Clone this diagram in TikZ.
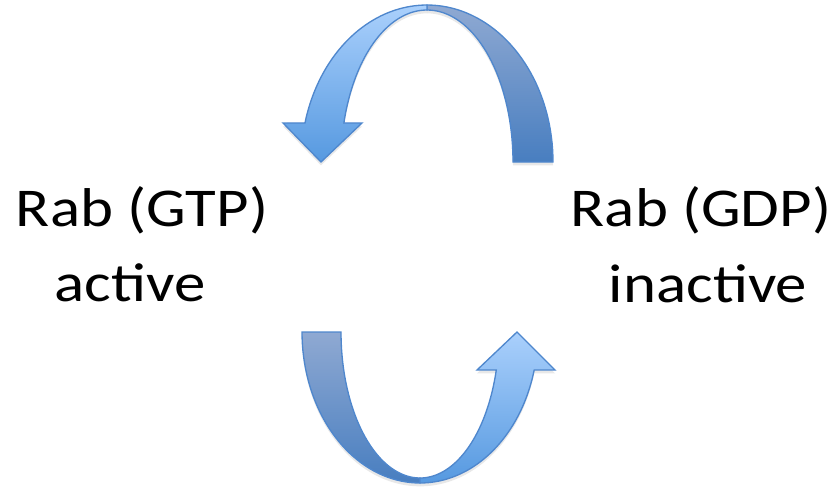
\documentclass[tikz,border=0pt]{standalone}
\usepackage{fontspec}
\usepackage{graphicx}
\usetikzlibrary{shadows}
\setmainfont{Carlito}
\definecolor{lighttop}{RGB}{170,208,252}
\definecolor{lightbot}{RGB}{86,153,224}
\definecolor{darktop}{RGB}{143,169,210}
\definecolor{darkbot}{RGB}{72,126,192}
\definecolor{arrowedge}{RGB}{79,135,205}
\newcommand{\widetxt}[1]{\scalebox{1.15}[1]{#1}}
\begin{document}
\begin{tikzpicture}[x=0.75pt,y=-0.75pt,
    band/.style={draw=arrowedge, line width=1pt, line join=miter,
        drop shadow={opacity=0.18, shadow xshift=0pt, shadow yshift=-2.5pt}},
    frontband/.style={band, top color=lighttop, bottom color=lightbot},
    backband/.style={band, top color=darktop, bottom color=darkbot},
    lbl/.style={font=\fontsize{41}{49}\selectfont, inner sep=0pt, anchor=base}]
\useasboundingbox (0,0) rectangle (834,494);

% Upper arrow, back half (right side, tail)
\path[backband] plot[domain=90:0, samples=40] ({427+126*cos(\x)}, {162-157*sin(\x)})
    -- (513,162)
    -- plot[domain=0:90, samples=40] ({427+86*cos(\x)}, {162-152*sin(\x)})
    -- cycle;
% Upper arrow, front half (left side, head)
\path[frontband] plot[domain=90:165.6, samples=40] ({427+126*cos(\x)}, {162-157*sin(\x)})
    -- (283,123) -- (321,162) -- (362,123)
    -- plot[domain=165.1:90, samples=40] ({427+86*cos(\x)}, {162-152*sin(\x)})
    -- cycle;

% Lower arrow, back half (left side, tail)
\path[backband] plot[domain=180:90, samples=40] ({420+118*cos(\x)}, {332+151*sin(\x)})
    -- plot[domain=90:180, samples=40] ({420+79*cos(\x)}, {332+146*sin(\x)})
    -- cycle;
% Lower arrow, front half (right side, head)
\path[frontband] plot[domain=90:14.58, samples=40] ({420+118*cos(\x)}, {332+151*sin(\x)})
    -- (555,370) -- (517,332) -- (477,370)
    -- plot[domain=15.08:90, samples=40] ({420+79*cos(\x)}, {332+146*sin(\x)})
    -- cycle;

% Labels
\node[lbl] (gtp) at (142,226) {\widetxt{Rab (GTP)}};
\node[lbl] (active) at (130,301) {\widetxt{active}};
\node[lbl] (gdp) at (701,226) {\widetxt{Rab (GDP)}};
\node[lbl] (inactive) at (708,302) {\widetxt{inactive}};
\end{tikzpicture}
\end{document}
